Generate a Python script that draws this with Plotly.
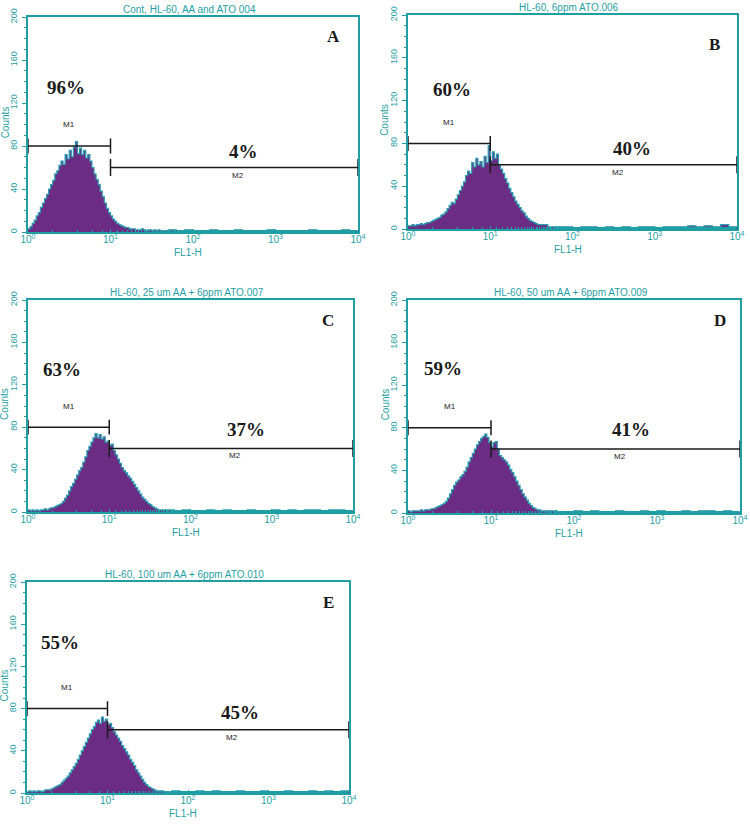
import plotly.graph_objects as go

# ---------------- data ----------------
TITLES = ["Cont, HL-60, AA and ATO 004", "HL-60, 6ppm ATO.006",
          "HL-60, 25 um AA + 6ppm ATO.007", "HL-60, 50 um AA + 6ppm ATO.009",
          "HL-60, 100 um AA + 6ppm ATO.010"]
LETTERS = ["A", "B", "C", "D", "E"]
M1_PCT = ["96%", "60%", "63%", "59%", "55%"]
M2_PCT = ["4%", "40%", "37%", "41%", "45%"]
M1_GATE = [1, 10]
M2_GATE = [10, 10000]
M1_LEVEL = 80
M2_LEVEL = 60
X_TICKS = [1, 10, 100, 1000, 10000]
X_TICKTEXT = ["10<sup>0</sup>", "10<sup>1</sup>", "10<sup>2</sup>", "10<sup>3</sup>", "10<sup>4</sup>"]
Y_TICKS = [0, 40, 80, 120, 160, 200]

BIN_STEP = 0.025    # decades per bin (main part, from 10^0)
TAIL_START = 1.7    # decade where coarse tail bins start
TAIL_STEP = 0.1

A_COUNTS = [3, 5, 8, 11, 15, 18, 23, 27, 31, 35, 40, 44, 48, 54, 57, 62, 66, 63, 72, 68,
            76, 70, 79, 84, 73, 78, 72, 76, 69, 72, 66, 60, 54, 49, 44, 38, 33, 27, 22, 18,
            15, 12, 10, 8, 7, 6, 5, 4, 4, 3, 3, 3, 2, 2, 2, 3, 2, 1, 2, 2, 1, 2, 1, 2, 1]
B_COUNTS = [3, 3, 4, 3, 4, 4, 5, 4, 5, 6, 6, 7, 8, 9, 10, 11, 13, 14, 16, 19,
            22, 25, 24, 28, 32, 36, 40, 44, 50, 54, 52, 62, 58, 66, 60, 63, 58, 68, 62, 78,
            64, 72, 66, 70, 60, 56, 52, 47, 43, 38, 34, 30, 26, 23, 20, 17, 15, 12, 10, 8,
            7, 6, 5, 4, 4]
C_COUNTS = [2, 1, 2, 1, 2, 1, 2, 2, 3, 2, 3, 4, 4, 5, 6, 7, 8, 10, 13, 16,
            20, 24, 27, 31, 35, 39, 42, 47, 52, 58, 62, 66, 70, 74, 70, 73, 69, 71, 66, 67,
            63, 64, 58, 54, 50, 46, 42, 39, 37, 34, 32, 29, 26, 23, 20, 17, 14, 12, 10, 8,
            7, 5, 4, 3, 2]
D_COUNTS = [2, 1, 2, 2, 2, 2, 3, 2, 3, 3, 3, 4, 4, 5, 6, 7, 8, 9, 11, 14,
            18, 22, 26, 29, 31, 34, 36, 39, 43, 48, 52, 56, 60, 64, 67, 70, 72, 74, 71, 66,
            62, 66, 67, 60, 54, 52, 50, 48, 45, 41, 38, 34, 30, 26, 22, 18, 15, 12, 9, 7,
            5, 4, 3, 3, 2]
E_COUNTS = [1, 2, 1, 2, 1, 2, 2, 1, 2, 3, 3, 3, 4, 5, 6, 7, 8, 10, 12, 14,
            16, 19, 22, 25, 28, 32, 36, 40, 44, 48, 52, 56, 60, 63, 67, 69, 66, 72, 68, 70,
            65, 66, 62, 58, 55, 52, 49, 45, 42, 39, 36, 32, 29, 26, 22, 19, 16, 13, 10, 8,
            6, 5, 4, 3, 2]

A_TAIL = [2, 1, 2, 1, 1, 2, 1, 1, 2, 1, 1, 1, 2, 1, 1, 1, 1, 2, 1, 1, 1, 2, 1, 1]
B_TAIL = [2, 2, 2, 1, 2, 2, 1, 2, 1, 2, 1, 2, 2, 1, 2, 2, 2, 3, 2, 3, 2, 4, 2, 1]
C_TAIL = [2, 1, 2, 1, 1, 2, 1, 2, 1, 1, 2, 1, 1, 2, 1, 2, 1, 2, 2, 1, 2, 2, 1, 1]
D_TAIL = [2, 1, 1, 2, 1, 2, 1, 1, 2, 1, 1, 2, 1, 2, 1, 1, 2, 1, 2, 2, 1, 2, 1, 1]
E_TAIL = [1, 2, 1, 1, 2, 1, 2, 1, 1, 2, 1, 1, 2, 1, 1, 2, 1, 1, 2, 1, 2, 1, 2, 1]

COUNTS = [A_COUNTS, B_COUNTS, C_COUNTS, D_COUNTS, E_COUNTS]
TAILS = [A_TAIL, B_TAIL, C_TAIL, D_TAIL, E_TAIL]

# ---------------- layout / style ----------------
W, H = 750, 825
# pixel boxes of plot areas: (left, right, top, bottom)
BOXES = [(28, 358, 17, 232), (408, 737, 15, 229), (28, 353, 300, 512),
         (408, 740, 300, 513), (27, 349, 582, 793)]
# label positions (decade, count)
PCT1_POS = [(0.46, 134), (0.53, 130), (0.42, 134), (0.42, 136), (0.41, 143)]
PCT2_POS = [(2.61, 75), (2.72, 75), (2.68, 78), (2.69, 78), (2.65, 76)]
LETTER_POS = [(3.70, 182), (3.73, 172), (3.69, 181), (3.76, 181), (3.75, 181)]
M1_LABEL_POS = (0.5, 100)
M2_LABEL_POS = (2.55, 53)

TEAL = "#1f9fa3"
PURPLE = "#6b2c83"
EDGE = "#2a9db0"
BLACK = "#1a1a1a"
SANS = "Liberation Sans, Arial, sans-serif"
SERIF = "Liberation Serif, Times New Roman, serif"

fig = go.Figure()
annotations = []
layout = {}

for i in range(5):
    n = str(i + 1) if i > 0 else ""
    xa, ya = "x" + n, "y" + n
    cnt, tail = COUNTS[i], TAILS[i]
    xs = [10 ** (k * BIN_STEP) for k in range(len(cnt))] + \
         [10 ** (TAIL_START + k * TAIL_STEP) for k in range(len(tail))]
    ys = cnt + tail
    fig.add_trace(go.Scatter(x=xs, y=ys, mode="lines", line=dict(color=EDGE, width=1.2, shape="hv"),
                             fill="tozeroy", fillcolor=PURPLE, xaxis=xa, yaxis=ya,
                             hoverinfo="skip", showlegend=False))
    # gate markers
    seg_x, seg_y = [], []
    seg_x += [M1_GATE[0], M1_GATE[1], None, M1_GATE[0], M1_GATE[0], None, M1_GATE[1], M1_GATE[1], None]
    seg_y += [M1_LEVEL, M1_LEVEL, None, M1_LEVEL - 7, M1_LEVEL + 7, None, M1_LEVEL - 7, M1_LEVEL + 7, None]
    seg_x += [M2_GATE[0], M2_GATE[1], None, M2_GATE[0], M2_GATE[0], None, M2_GATE[1], M2_GATE[1]]
    seg_y += [M2_LEVEL, M2_LEVEL, None, M2_LEVEL - 8, M2_LEVEL + 8, None, M2_LEVEL - 8, M2_LEVEL + 8]
    fig.add_trace(go.Scatter(x=seg_x, y=seg_y, mode="lines", line=dict(color=BLACK, width=1.5),
                             xaxis=xa, yaxis=ya, hoverinfo="skip", showlegend=False))

    l, r, t, b = BOXES[i]
    layout["xaxis" + n] = dict(
        type="log", range=[0, 4], domain=[l / W, r / W], anchor=ya, automargin=False,
        showline=True, linecolor=TEAL, linewidth=1.5, mirror=True,
        ticks="inside", ticklen=3, tickcolor=TEAL, tickwidth=1,
        tickvals=X_TICKS, ticktext=X_TICKTEXT, ticklabeloverflow="allow", ticklabelstandoff=-3,
        tickfont=dict(family=SANS, size=10, color=TEAL),
        minor=dict(ticks="inside", ticklen=2, tickcolor=TEAL, showgrid=False),
        showgrid=False, zeroline=False, fixedrange=True)
    layout["yaxis" + n] = dict(
        range=[0, 200], domain=[1 - b / H, 1 - t / H], anchor=xa, automargin=False,
        showline=True, linecolor=TEAL, linewidth=1.5, mirror=True,
        ticks="outside", ticklen=4, tickcolor=TEAL, tickwidth=1,
        tickvals=Y_TICKS, ticktext=[str(v) for v in Y_TICKS], tickangle=-90,
        ticklabeloverflow="allow", ticklabelstandoff=2,
        tickfont=dict(family=SANS, size=9, color=TEAL),
        minor=dict(ticks="outside", ticklen=2, tickcolor=TEAL, dtick=10, showgrid=False),
        showgrid=False, zeroline=False, fixedrange=True)

    xd, yd = xa + " domain", ya + " domain"
    annotations += [
        dict(text=TITLES[i], xref=xd, yref=yd, x=0.49, y=1, xanchor="center", yanchor="middle", yshift=8,
             showarrow=False, font=dict(family=SANS, size=10, color=TEAL)),
        dict(text="Counts", xref=xd, yref=yd, x=0, y=0.51, xanchor="center", yanchor="middle",
             xshift=-23, textangle=-90,
             showarrow=False, font=dict(family=SANS, size=10, color=TEAL)),
        dict(text="FL1-H", xref=xd, yref=yd, x=0.485, y=0, xanchor="center", yanchor="middle", yshift=-20,
             showarrow=False, font=dict(family=SANS, size=10, color=TEAL)),
        dict(text="<b>" + M1_PCT[i] + "</b>", xref=xa, yref=ya, x=PCT1_POS[i][0], y=PCT1_POS[i][1],
             showarrow=False, font=dict(family=SERIF, size=19, color=BLACK)),
        dict(text="<b>" + M2_PCT[i] + "</b>", xref=xa, yref=ya, x=PCT2_POS[i][0], y=PCT2_POS[i][1],
             showarrow=False, font=dict(family=SERIF, size=19, color=BLACK)),
        dict(text="<b>" + LETTERS[i] + "</b>", xref=xa, yref=ya, x=LETTER_POS[i][0], y=LETTER_POS[i][1],
             showarrow=False, font=dict(family=SERIF, size=17, color=BLACK)),
        dict(text="M1", xref=xa, yref=ya, x=M1_LABEL_POS[0], y=M1_LABEL_POS[1],
             showarrow=False, font=dict(family=SANS, size=8, color=BLACK)),
        dict(text="M2", xref=xa, yref=ya, x=M2_LABEL_POS[0], y=M2_LABEL_POS[1],
             showarrow=False, font=dict(family=SANS, size=8, color=BLACK)),
    ]

fig.update_layout(width=W, height=H, margin=dict(l=0, r=0, t=0, b=0, autoexpand=False),
                  paper_bgcolor="white", plot_bgcolor="white", showlegend=False,
                  annotations=annotations, **layout)

fig.write_html("out.html", config={"displayModeBar": False},
               post_script="document.body.style.margin='0';")
